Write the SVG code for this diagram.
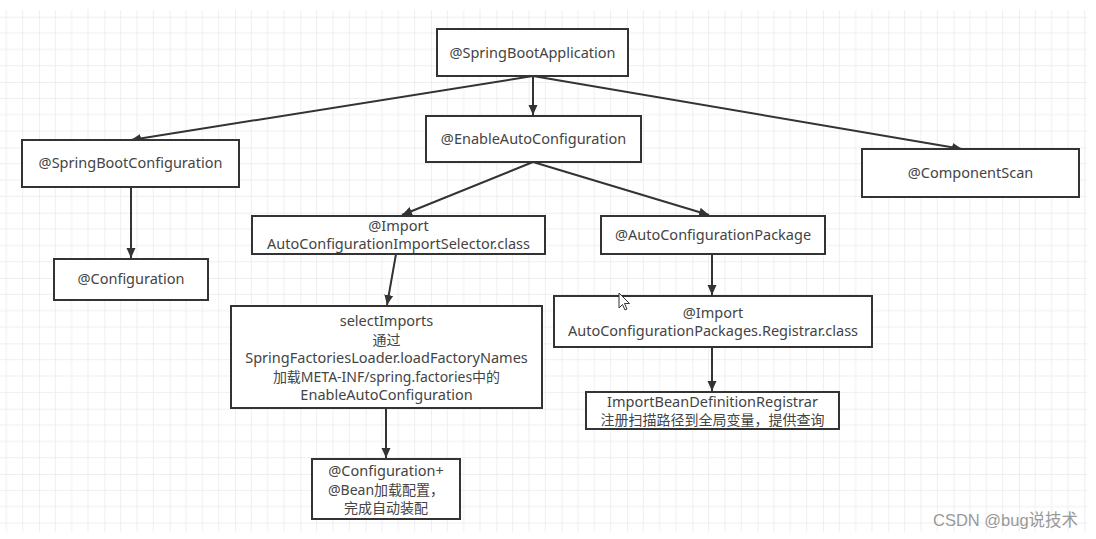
<svg xmlns="http://www.w3.org/2000/svg" width="1096" height="539" viewBox="0 0 1096 539">
<defs>
<pattern id="grid" x="-26.33" y="16.7" width="65.33" height="65.33" patternUnits="userSpaceOnUse">
<path d="M0 0V65.33M16.33 0V65.33M32.67 0V65.33M49 0V65.33M0 0H65.33M0 16.33H65.33M0 32.67H65.33M0 49H65.33" stroke="#efefef" stroke-width="1" fill="none"/>
<path d="M0 0V65.33M0 0H65.33" stroke="#e6e6e6" stroke-width="1" fill="none"/>
</pattern>
<marker id="arr" viewBox="0 0 10 10" refX="10" refY="5" markerWidth="10" markerHeight="10" markerUnits="userSpaceOnUse" orient="auto">
<path d="M0 0.5L10 5L0 9.5z" fill="#333"/>
</marker>
</defs>
<style>
.box{fill:#fff;stroke:#333;stroke-width:2}
.t{font-family:"Noto Sans","Noto Sans CJK SC",sans-serif;font-size:14.5px;fill:#444;text-anchor:middle}
.cj{font-size:14px}
.c{fill:none;stroke:#333;stroke-width:2;marker-end:url(#arr)}
.wm{font-family:"Liberation Sans","Noto Sans CJK SC",sans-serif;font-size:16.5px;fill:#999}
</style>
<rect width="1096" height="539" fill="#fff"/>
<rect x="0" y="10" width="1087" height="522" fill="url(#grid)"/>
<g id="connectors">
<path class="c" d="M533 76V115"/>
<path class="c" d="M533 76L131 140"/>
<path class="c" d="M533 76L962 149"/>
<path class="c" d="M533 162L402 215"/>
<path class="c" d="M533 162L709 215"/>
<path class="c" d="M131 187V258"/>
<path class="c" d="M396 254L387 305"/>
<path class="c" d="M386 408V458"/>
<path class="c" d="M712 254V295"/>
<path class="c" d="M712 347V391"/>
</g>
<g id="n-sba"><rect class="box" x="437" y="29" width="191" height="47"/><text class="t" x="532.5" y="58">@SpringBootApplication</text></g>
<g id="n-eac"><rect class="box" x="426" y="116" width="215" height="46"/><text class="t" x="533.5" y="144">@EnableAutoConfiguration</text></g>
<g id="n-sbc"><rect class="box" x="22" y="140" width="217" height="47"/><text class="t" x="130.5" y="168">@SpringBootConfiguration</text></g>
<g id="n-conf"><rect class="box" x="54" y="259" width="154" height="41"/><text class="t" x="131" y="284">@Configuration</text></g>
<g id="n-cs"><rect class="box" x="862" y="149" width="217" height="48"/><text class="t" x="970.5" y="178">@ComponentScan</text></g>
<g id="n-ais"><rect class="box" x="252" y="216" width="293" height="38"/><text class="t" x="398.5" y="230.5"><tspan x="398.5">@Import</tspan><tspan x="398.5" dy="18">AutoConfigurationImportSelector.class</tspan></text></g>
<g id="n-si"><rect class="box" x="231" y="306" width="311" height="102"/>
<text class="t" x="386.5" y="326"><tspan x="386.5">selectImports</tspan><tspan class="cj" x="386.5" dy="18.5">通过</tspan><tspan x="386.5" dy="18.5">SpringFactoriesLoader.loadFactoryNames</tspan><tspan class="cj" x="386.5" dy="18.5">加载META-INF/spring.factories中的</tspan><tspan x="386.5" dy="18.5">EnableAutoConfiguration</tspan></text></g>
<g id="n-cb"><rect class="box" x="312" y="459" width="148" height="60"/>
<text class="t" x="386" y="476"><tspan x="386">@Configuration+</tspan><tspan class="cj" x="386" dy="18.5">@Bean加载配置，</tspan><tspan class="cj" x="386" dy="18">完成自动装配</tspan></text></g>
<g id="n-acp"><rect class="box" x="601" y="216" width="224" height="38"/><text class="t" x="713" y="240">@AutoConfigurationPackage</text></g>
<g id="n-reg"><rect class="box" x="554" y="296" width="318" height="51"/><text class="t" x="713" y="318"><tspan x="713">@Import</tspan><tspan x="713" dy="18">AutoConfigurationPackages.Registrar.class</tspan></text></g>
<g id="n-ibdr"><rect class="box" x="586" y="392" width="253" height="37"/><text class="t" x="712.5" y="407"><tspan x="712.5">ImportBeanDefinitionRegistrar</tspan><tspan class="cj" x="712.5" dy="17.5">注册扫描路径到全局变量，提供查询</tspan></text></g>
<g id="cursor"><path d="M619 293V308L622.5 304.5L625 310L627 309L624.5 303.5H629.5Z" fill="#fff" stroke="#333" stroke-width="1"/></g>
<text class="wm" x="933" y="526">CSDN @bug说技术</text>
</svg>
